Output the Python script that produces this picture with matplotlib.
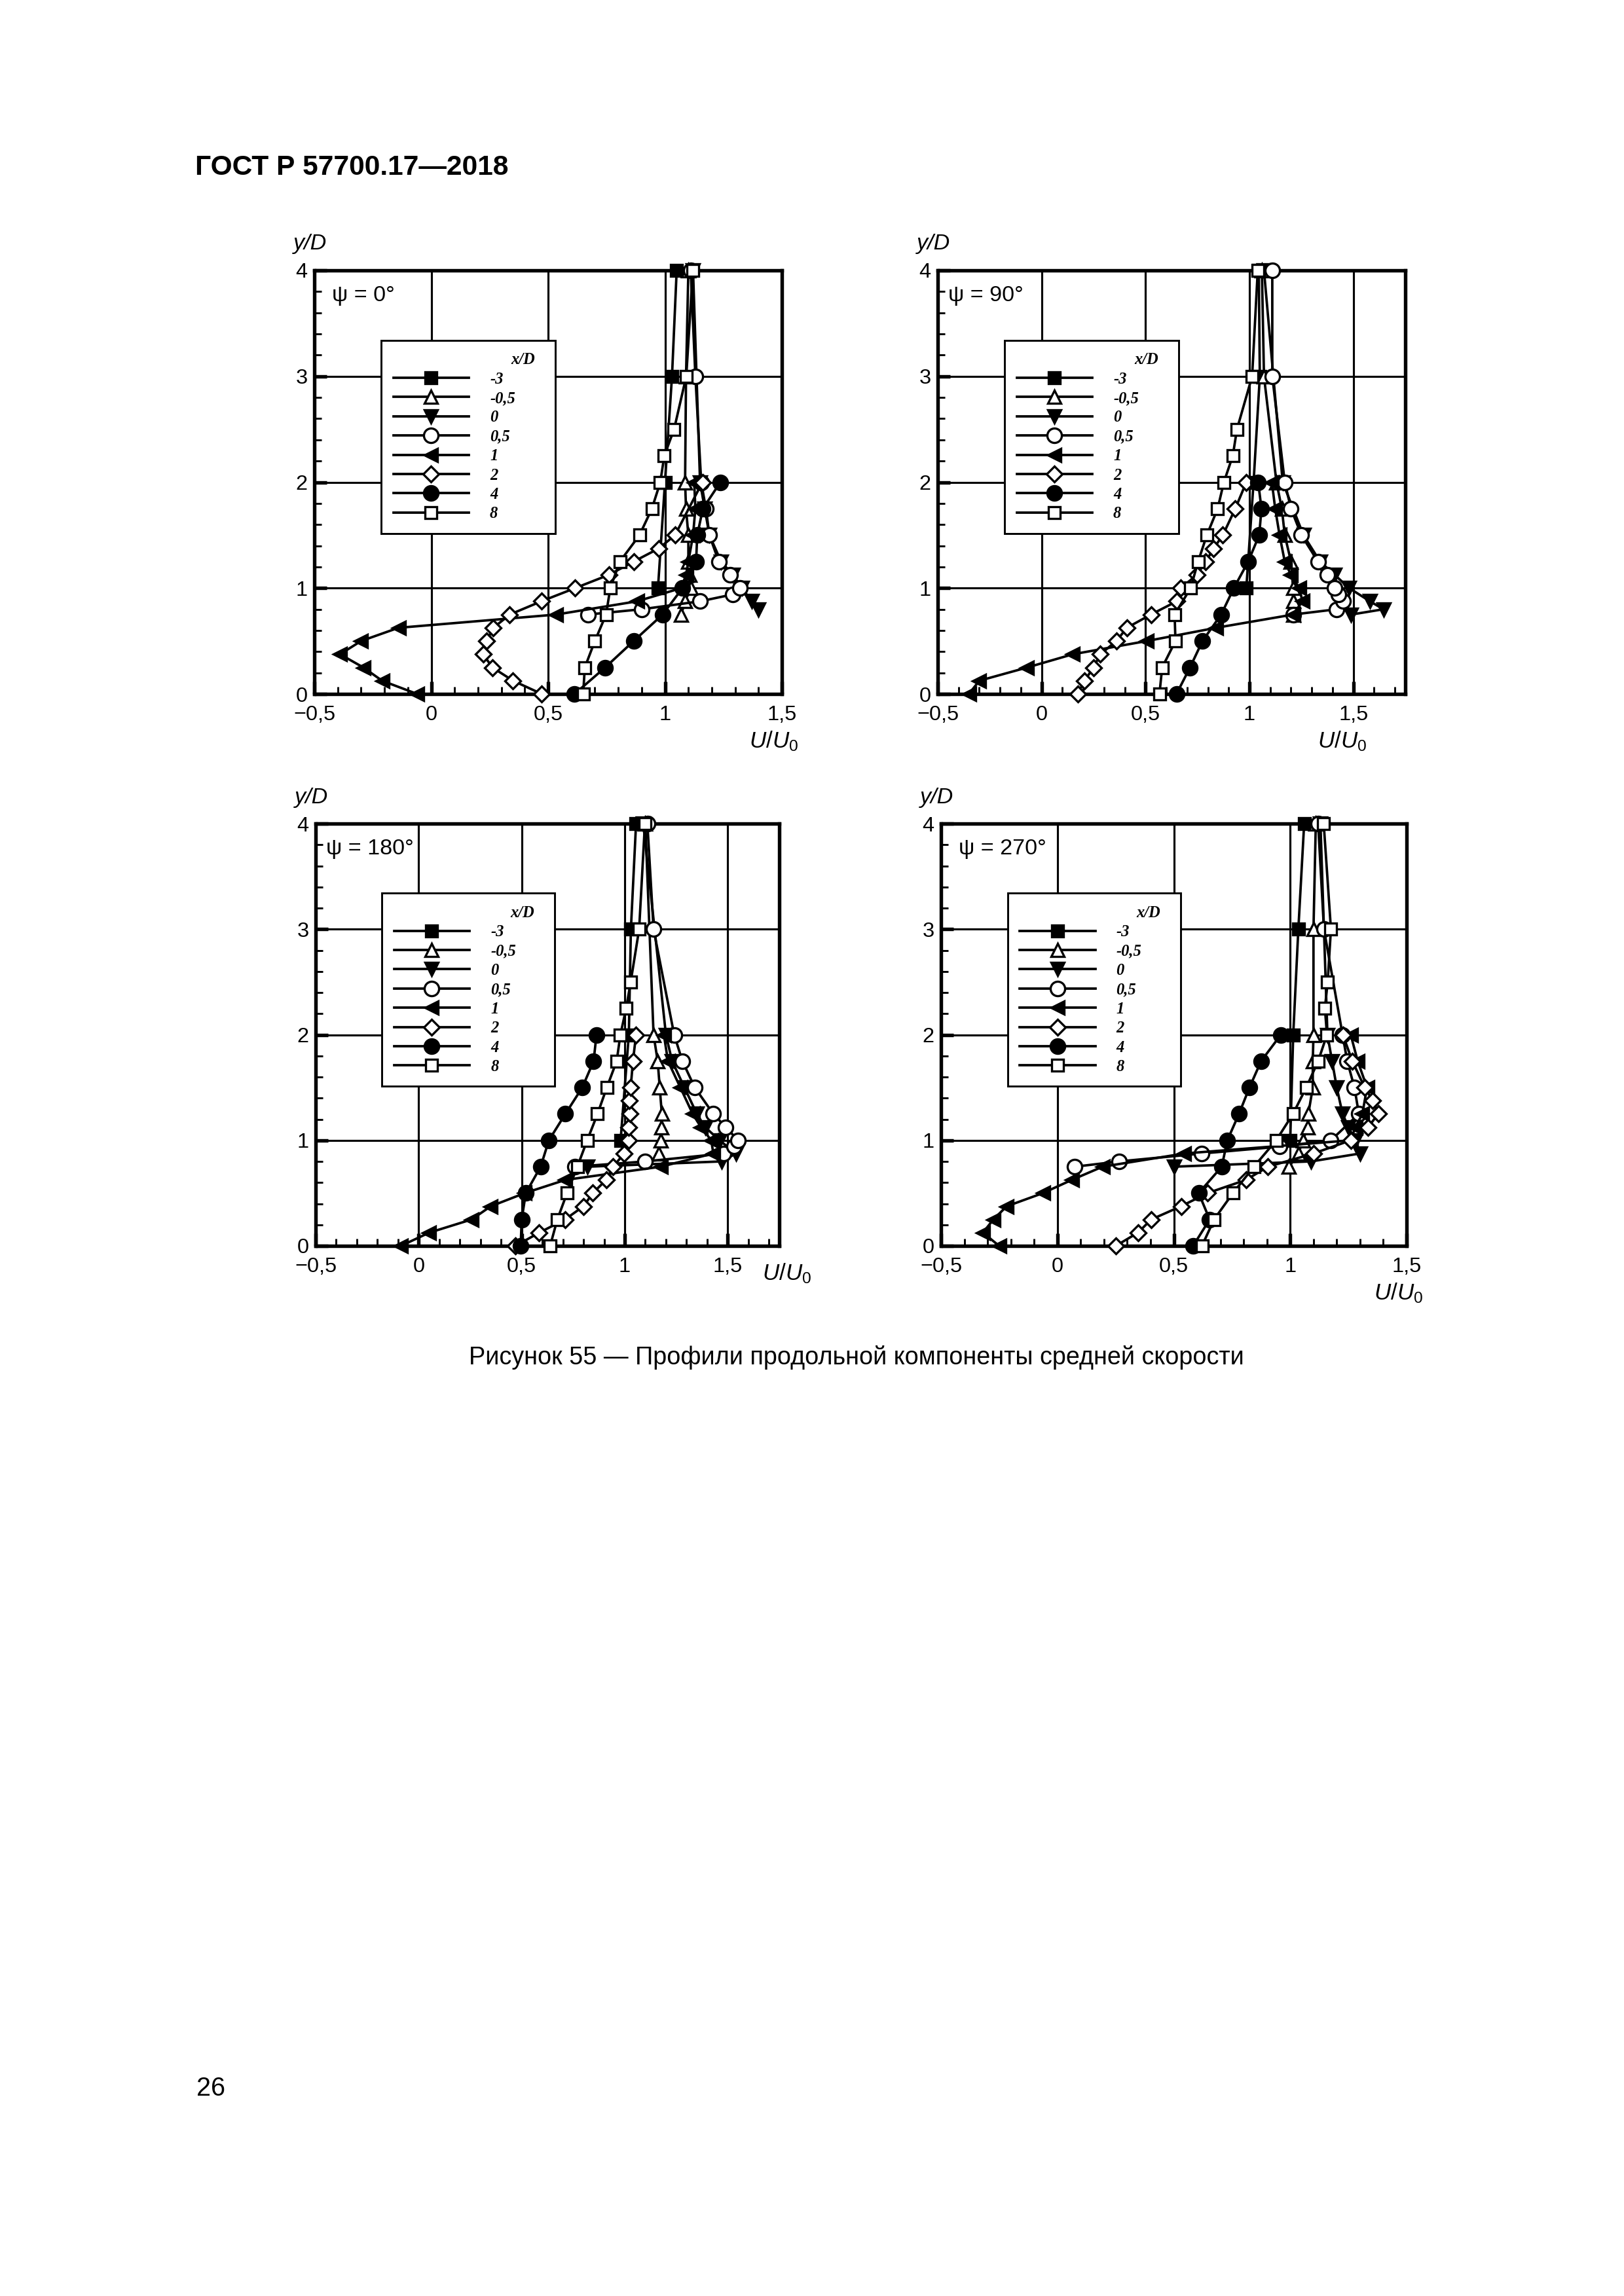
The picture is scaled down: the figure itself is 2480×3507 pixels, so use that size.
import matplotlib
matplotlib.use('Agg')
import matplotlib.pyplot as plt
from matplotlib.ticker import MultipleLocator, FixedLocator, FuncFormatter
from matplotlib.lines import Line2D
from matplotlib.font_manager import FontProperties
from matplotlib import font_manager

plt.rcParams['font.family'] = ['Liberation Sans', 'DejaVu Sans']
plt.rcParams['mathtext.fontset'] = 'custom'
plt.rcParams['mathtext.it'] = 'Liberation Sans:italic'
plt.rcParams['mathtext.rm'] = 'Liberation Sans'

# ---------------- data ----------------
LABELS = ['-3', '-0,5', '0', '0,5', '1', '2', '4', '8']
TITLES = ['ψ = 0°', 'ψ = 90°', 'ψ = 180°', 'ψ = 270°']
XMAX = [1.5, 1.75, 1.75, 1.5]
XTICKS = [-0.5, 0, 0.5, 1, 1.5]
YTICKS = [0, 1, 2, 3, 4]

# psi = 0
p0_m3_y = [1, 2, 3, 4]
p0_m3_x = [0.97, 1.0, 1.03, 1.05]
p0_m05_y = [0.75, 0.875, 1.0, 1.125, 1.25, 1.5, 1.75, 2, 3, 4]
p0_m05_x = [1.07, 1.085, 1.11, 1.105, 1.10, 1.10, 1.09, 1.086, 1.09, 1.10]
p0_z_y = [0.8, 0.875, 1.0, 1.125, 1.25, 1.5, 1.75, 2, 4]
p0_z_x = [1.40, 1.37, 1.33, 1.29, 1.24, 1.19, 1.17, 1.15, 1.12]
p0_p05_y = [0.75, 0.8, 0.875, 0.94, 1.0, 1.125, 1.25, 1.5, 1.75, 2, 3, 4]
p0_p05_x = [0.67, 0.90, 1.15, 1.29, 1.32, 1.28, 1.23, 1.19, 1.175, 1.155, 1.13, 1.11]
p0_one_y = [0, 0.125, 0.25, 0.375, 0.5, 0.625, 0.75, 0.875, 1.0, 1.125, 1.25, 1.5, 1.75, 2]
p0_one_x = [-0.06, -0.21, -0.29, -0.39, -0.30, -0.14, 0.535, 0.88, 1.07, 1.09, 1.10, 1.12, 1.13, 1.125]
p0_two_y = [0, 0.125, 0.25, 0.375, 0.5, 0.625, 0.75, 0.875, 1.0, 1.125, 1.25, 1.375, 1.5, 2]
p0_two_x = [0.473, 0.35, 0.262, 0.222, 0.237, 0.266, 0.336, 0.471, 0.616, 0.76, 0.866, 0.974, 1.043, 1.16]
p0_four_y = [0, 0.25, 0.5, 0.75, 1.0, 1.25, 1.5, 1.75, 2]
p0_four_x = [0.613, 0.744, 0.866, 0.99, 1.075, 1.133, 1.138, 1.162, 1.237]
p0_eight_y = [0, 0.25, 0.5, 0.75, 1.0, 1.25, 1.5, 1.75, 2, 2.25, 2.5, 3, 4]
p0_eight_x = [0.65, 0.657, 0.70, 0.748, 0.766, 0.807, 0.891, 0.944, 0.98, 0.997, 1.039, 1.091, 1.119]

# psi = 90
p1_m3_y = [1, 2, 3, 4]
p1_m3_x = [0.985, 1.02, 1.05, 1.045]
p1_m05_y = [0.75, 0.875, 1.0, 1.25, 1.5, 1.75, 2, 3, 4]
p1_m05_x = [1.21, 1.21, 1.21, 1.20, 1.17, 1.156, 1.13, 1.07, 1.06]
p1_z_y = [0.75, 0.8, 0.875, 1.0, 1.125, 1.25, 1.5, 2, 4]
p1_z_x = [1.49, 1.645, 1.58, 1.48, 1.41, 1.34, 1.26, 1.16, 1.07]
p1_p05_y = [0.75, 0.8, 0.875, 0.94, 1.0, 1.125, 1.25, 1.5, 1.75, 2, 3, 4]
p1_p05_x = [1.21, 1.42, 1.45, 1.43, 1.41, 1.375, 1.33, 1.25, 1.20, 1.17, 1.11, 1.11]
p1_one_y = [0, 0.125, 0.25, 0.375, 0.5, 0.625, 0.75, 0.875, 1.0, 1.125, 1.25, 1.5, 1.75, 2]
p1_one_x = [-0.35, -0.30, -0.07, 0.15, 0.506, 0.84, 1.21, 1.255, 1.24, 1.20, 1.17, 1.145, 1.124, 1.108]
p1_two_y = [0, 0.125, 0.25, 0.375, 0.5, 0.625, 0.75, 0.875, 1.0, 1.125, 1.25, 1.375, 1.5, 1.75, 2]
p1_two_x = [0.174, 0.206, 0.25, 0.282, 0.36, 0.41, 0.526, 0.65, 0.67, 0.747, 0.79, 0.828, 0.872, 0.932, 0.985]
p1_four_y = [0, 0.25, 0.5, 0.75, 1.0, 1.25, 1.5, 1.75, 2]
p1_four_x = [0.649, 0.714, 0.774, 0.864, 0.925, 0.994, 1.047, 1.058, 1.042]
p1_eight_y = [0, 0.25, 0.5, 0.75, 1.0, 1.25, 1.5, 1.75, 2, 2.25, 2.5, 3, 4]
p1_eight_x = [0.567, 0.58, 0.644, 0.64, 0.717, 0.753, 0.795, 0.847, 0.877, 0.92, 0.94, 1.013, 1.04]

# psi = 180
p2_m3_y = [1, 2, 3, 4]
p2_m3_x = [0.98, 1.02, 1.03, 1.055]
p2_m05_y = [0.875, 1.0, 1.125, 1.25, 1.5, 1.75, 2, 4]
p2_m05_x = [1.166, 1.174, 1.177, 1.18, 1.17, 1.16, 1.14, 1.10]
p2_z_y = [0.75, 0.8, 0.875, 1.0, 1.125, 1.25, 1.5, 1.75, 2, 4]
p2_z_x = [0.82, 1.47, 1.54, 1.46, 1.39, 1.35, 1.29, 1.23, 1.20, 1.09]
p2_p05_y = [0.75, 0.8, 0.875, 0.94, 1.0, 1.125, 1.25, 1.5, 1.75, 2, 3, 4]
p2_p05_x = [0.76, 1.10, 1.48, 1.53, 1.55, 1.49, 1.43, 1.34, 1.28, 1.24, 1.14, 1.11]
p2_one_y = [0, 0.125, 0.25, 0.375, 0.5, 0.625, 0.75, 0.875, 1.0, 1.125, 1.25, 1.5, 1.75, 2]
p2_one_x = [-0.086, 0.051, 0.257, 0.35, 0.515, 0.712, 1.175, 1.43, 1.42, 1.37, 1.33, 1.27, 1.21, 1.19]
p2_two_y = [0, 0.125, 0.25, 0.375, 0.5, 0.625, 0.75, 0.875, 1.0, 1.125, 1.25, 1.375, 1.5, 1.75, 2]
p2_two_x = [0.47, 0.585, 0.71, 0.80, 0.845, 0.91, 0.944, 0.997, 1.018, 1.018, 1.025, 1.023, 1.029, 1.04, 1.055]
p2_four_y = [0, 0.25, 0.5, 0.75, 1.0, 1.25, 1.5, 1.75, 2]
p2_four_x = [0.495, 0.50, 0.52, 0.592, 0.632, 0.712, 0.794, 0.849, 0.863]
p2_eight_y = [0, 0.25, 0.5, 0.75, 1.0, 1.25, 1.5, 1.75, 2, 2.25, 2.5, 3, 4]
p2_eight_x = [0.638, 0.673, 0.72, 0.77, 0.818, 0.868, 0.913, 0.961, 0.979, 1.007, 1.029, 1.07, 1.098]

# psi = 270
p3_m3_y = [1, 2, 3, 4]
p3_m3_x = [1.0, 1.013, 1.035, 1.06]
p3_m05_y = [0.75, 0.875, 1.0, 1.125, 1.25, 1.5, 1.75, 2, 3, 4]
p3_m05_x = [0.995, 1.035, 1.055, 1.074, 1.078, 1.097, 1.097, 1.10, 1.10, 1.11]
p3_z_y = [0.75, 0.8, 0.875, 1.0, 1.125, 1.25, 1.5, 1.75, 2, 4]
p3_z_x = [0.50, 1.09, 1.30, 1.28, 1.25, 1.225, 1.20, 1.18, 1.16, 1.13]
p3_p05_y = [0.75, 0.8, 0.875, 0.94, 1.0, 1.25, 1.5, 1.75, 2, 3, 4]
p3_p05_x = [0.075, 0.265, 0.62, 0.955, 1.175, 1.295, 1.276, 1.245, 1.225, 1.145, 1.12]
p3_one_y = [0, 0.125, 0.25, 0.375, 0.5, 0.625, 0.75, 0.875, 1.0, 1.125, 1.25, 1.5, 1.75, 2]
p3_one_x = [-0.25, -0.32, -0.275, -0.218, -0.062, 0.062, 0.194, 0.545, 1.26, 1.28, 1.31, 1.33, 1.29, 1.26]
p3_two_y = [0, 0.125, 0.25, 0.375, 0.5, 0.625, 0.75, 0.875, 1.0, 1.125, 1.25, 1.375, 1.5, 1.75, 2]
p3_two_x = [0.251, 0.346, 0.403, 0.531, 0.645, 0.81, 0.905, 1.10, 1.26, 1.335, 1.378, 1.355, 1.32, 1.267, 1.226]
p3_four_y = [0, 0.25, 0.5, 0.75, 1.0, 1.25, 1.5, 1.75, 2]
p3_four_x = [0.583, 0.654, 0.607, 0.706, 0.73, 0.78, 0.825, 0.875, 0.96]
p3_eight_y = [0, 0.25, 0.5, 0.75, 1.0, 1.25, 1.5, 1.75, 2, 2.25, 2.5, 3, 4]
p3_eight_x = [0.621, 0.673, 0.754, 0.844, 0.94, 1.012, 1.069, 1.12, 1.158, 1.149, 1.161, 1.175, 1.144]

PANELS = [
    [(p0_m3_x, p0_m3_y), (p0_m05_x, p0_m05_y), (p0_z_x, p0_z_y), (p0_p05_x, p0_p05_y),
     (p0_one_x, p0_one_y), (p0_two_x, p0_two_y), (p0_four_x, p0_four_y), (p0_eight_x, p0_eight_y)],
    [(p1_m3_x, p1_m3_y), (p1_m05_x, p1_m05_y), (p1_z_x, p1_z_y), (p1_p05_x, p1_p05_y),
     (p1_one_x, p1_one_y), (p1_two_x, p1_two_y), (p1_four_x, p1_four_y), (p1_eight_x, p1_eight_y)],
    [(p2_m3_x, p2_m3_y), (p2_m05_x, p2_m05_y), (p2_z_x, p2_z_y), (p2_p05_x, p2_p05_y),
     (p2_one_x, p2_one_y), (p2_two_x, p2_two_y), (p2_four_x, p2_four_y), (p2_eight_x, p2_eight_y)],
    [(p3_m3_x, p3_m3_y), (p3_m05_x, p3_m05_y), (p3_z_x, p3_z_y), (p3_p05_x, p3_p05_y),
     (p3_one_x, p3_one_y), (p3_two_x, p3_two_y), (p3_four_x, p3_four_y), (p3_eight_x, p3_eight_y)],
]

# ---------------- styles ----------------
MARKERS = ['s', '^', 'v', 'o', '<', 'D', 'o', 's']
FILLED = [True, False, True, False, True, False, True, False]
MSIZE = [4.2, 4.7, 4.7, 5.3, 4.7, 4.0, 5.3, 4.2]

W, H = 2480, 3507
# axes rectangles in pixels: left, top, right, bottom
AX_PX = [(480, 413, 1194, 1060), (1432, 413, 2146, 1060),
         (482, 1258, 1190, 1903), (1437, 1258, 2148, 1903)]
PSI_X = [0.038, 0.023, 0.023, 0.038]
UU_POS = [(0.93, -0.112), (0.813, -0.112), (0.963, -0.065), (0.93, -0.112)]

fig = plt.figure(figsize=(W / 300, H / 300), dpi=300)


def fmt(v, pos):
    if abs(v - round(v)) < 1e-9:
        return str(int(round(v)))
    s = ('%g' % v).replace('.', ',')
    return s.replace('-', '\u2212')


leg_font = FontProperties(family=['Liberation Serif', 'DejaVu Serif'], weight='bold',
                          style='italic', size=5.9)

for i, (l, t, r, b) in enumerate(AX_PX):
    ax = fig.add_axes([l / W, 1 - b / H, (r - l) / W, (b - t) / H])
    ax.set_xlim(-0.5, XMAX[i])
    ax.set_ylim(0, 4)
    ax.set_axisbelow(True)
    ax.xaxis.set_major_locator(FixedLocator(XTICKS))
    ax.yaxis.set_major_locator(FixedLocator(YTICKS))
    ax.xaxis.set_minor_locator(MultipleLocator(0.1))
    ax.yaxis.set_minor_locator(MultipleLocator(0.2))
    ax.xaxis.set_major_formatter(FuncFormatter(fmt))
    ax.yaxis.set_major_formatter(FuncFormatter(fmt))
    ax.tick_params(which='major', direction='in', length=4.5, width=1.3,
                   labelsize=7.8, pad=4, top=False, right=False)
    ax.tick_params(axis='y', which='major', pad=2.5)
    ax.tick_params(which='minor', direction='in', length=2.7, width=0.7,
                   top=False, right=False)
    ax.grid(True, which='major', color='black', linewidth=0.75)
    for sp in ax.spines.values():
        sp.set_linewidth(1.3)

    handles = []
    for k, (xs, ys) in enumerate(PANELS[i]):
        fc = 'black' if FILLED[k] else 'white'
        ax.plot(xs, ys, color='black', linewidth=0.9, marker=MARKERS[k],
                markersize=MSIZE[k], markerfacecolor=fc, markeredgecolor='black',
                markeredgewidth=0.8, clip_on=False, zorder=3 + k * 0.1)
        handles.append(Line2D([], [], color='black', linewidth=0.9, marker=MARKERS[k],
                              markersize=MSIZE[k], markerfacecolor=fc,
                              markeredgecolor='black', markeredgewidth=0.8))

    leg = ax.legend(handles, LABELS, title='x/D  ', loc='upper left',
                    bbox_to_anchor=(0.143, 0.40, 0.372, 0.435), mode='expand',
                    borderaxespad=0, frameon=True, fancybox=False, framealpha=1,
                    edgecolor='black', prop=leg_font, title_fontproperties=leg_font,
                    handlelength=4.7, handletextpad=1.3, labelspacing=0.26,
                    borderpad=0.75, alignment='right')
    leg.get_frame().set_linewidth(0.7)
    leg.set_zorder(10)

    ax.text(PSI_X[i], 0.94, TITLES[i], transform=ax.transAxes, ha='left',
            va='center', fontsize=8.2, zorder=11)
    ax.text(-0.045, 1.062, 'y/D', transform=ax.transAxes, ha='left', va='center',
            fontsize=8.2, style='italic')
    ax.text(UU_POS[i][0], UU_POS[i][1], r'$U/U_{\mathrm{0}}$', transform=ax.transAxes,
            ha='left', va='center', fontsize=8.4)

fig.text(298 / W, 1 - 256 / H, 'ГОСТ Р 57700.17—2018', fontsize=10.2,
         weight='bold', ha='left', va='center')

names = {f.name for f in font_manager.fontManager.ttflist}
cap_family = 'Liberation Sans Narrow' if 'Liberation Sans Narrow' in names else 'Liberation Sans'
cap = fig.text(1308 / W, 1 - 2074 / H,
               'Рисунок 55 — Профили продольной компоненты средней скорости',
               fontsize=10, family=cap_family, ha='center', va='center')
fig.text(300 / W, 1 - 3190 / H, '26', fontsize=9.5, ha='left', va='center')

fig.canvas.draw()
bb = cap.get_window_extent(fig.canvas.get_renderer())
cap.set_fontsize(10 * 1180 / bb.width)

fig.savefig('out.png', dpi=300)
